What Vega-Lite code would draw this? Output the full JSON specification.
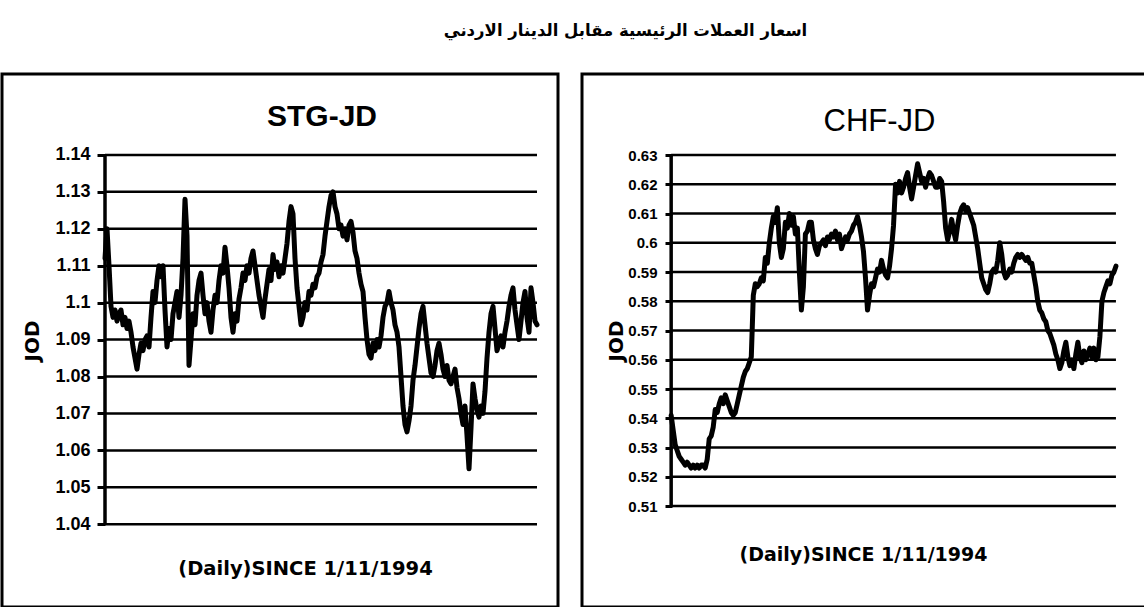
{
  "$schema": "https://vega.github.io/schema/vega-lite/v6.json",
  "background": "white",
  "padding": {"top": 23, "left": 0, "right": 0, "bottom": 0},
  "spacing": 20,
  "title": {"text": "اسعار العملات الرئيسية مقابل الدينار الاردني", "font": "DejaVu Sans", "fontSize": 16.5, "fontWeight": "bold", "color": "black", "anchor": "middle", "dx": 50, "offset": 33},
  "config": {"view": {"stroke": "black", "strokeWidth": 3}},
  "datasets": {
    "gridL": [{"v":1.04},{"v":1.05},{"v":1.06},{"v":1.07},{"v":1.08},{"v":1.09},{"v":1.1},{"v":1.11},{"v":1.12},{"v":1.13},{"v":1.14}],
    "gridR": [{"v":0.51},{"v":0.52},{"v":0.53},{"v":0.54},{"v":0.55},{"v":0.56},{"v":0.57},{"v":0.58},{"v":0.59},{"v":0.6},{"v":0.61},{"v":0.62},{"v":0.63}],
    "stg": [
      {"d":0,"v":1.112},{"d":1,"v":1.12},{"d":2,"v":1.11},{"d":3,"v":1.099},{"d":4,"v":1.096},{"d":5,"v":1.098},{"d":6,"v":1.095},{"d":7,"v":1.097},{"d":8,"v":1.098},{"d":9,"v":1.094},
      {"d":10,"v":1.096},{"d":11,"v":1.093},{"d":12,"v":1.095},{"d":13,"v":1.092},{"d":14,"v":1.088},{"d":15,"v":1.085},{"d":16,"v":1.082},{"d":17,"v":1.086},{"d":18,"v":1.089},{"d":19,"v":1.087},
      {"d":20,"v":1.09},{"d":21,"v":1.091},{"d":22,"v":1.088},{"d":23,"v":1.096},{"d":24,"v":1.103},{"d":25,"v":1.1},{"d":26,"v":1.106},{"d":27,"v":1.11},{"d":28,"v":1.107},{"d":29,"v":1.11},
      {"d":30,"v":1.098},{"d":31,"v":1.088},{"d":32,"v":1.093},{"d":33,"v":1.09},{"d":34,"v":1.097},{"d":35,"v":1.1},{"d":36,"v":1.103},{"d":37,"v":1.096},{"d":38,"v":1.102},{"d":39,"v":1.112},
      {"d":40,"v":1.128},{"d":41,"v":1.118},{"d":42,"v":1.083},{"d":43,"v":1.09},{"d":44,"v":1.097},{"d":45,"v":1.094},{"d":46,"v":1.102},{"d":47,"v":1.106},{"d":48,"v":1.108},{"d":49,"v":1.102},
      {"d":50,"v":1.097},{"d":51,"v":1.1},{"d":52,"v":1.095},{"d":53,"v":1.092},{"d":54,"v":1.098},{"d":55,"v":1.102},{"d":56,"v":1.1},{"d":57,"v":1.106},{"d":58,"v":1.11},{"d":59,"v":1.108},
      {"d":60,"v":1.115},{"d":61,"v":1.11},{"d":62,"v":1.104},{"d":63,"v":1.096},{"d":64,"v":1.092},{"d":65,"v":1.097},{"d":66,"v":1.095},{"d":67,"v":1.101},{"d":68,"v":1.104},{"d":69,"v":1.108},
      {"d":70,"v":1.106},{"d":71,"v":1.11},{"d":72,"v":1.108},{"d":73,"v":1.112},{"d":74,"v":1.114},{"d":75,"v":1.11},{"d":76,"v":1.106},{"d":77,"v":1.102},{"d":78,"v":1.099},{"d":79,"v":1.096},
      {"d":80,"v":1.101},{"d":81,"v":1.105},{"d":82,"v":1.109},{"d":83,"v":1.106},{"d":84,"v":1.113},{"d":85,"v":1.109},{"d":86,"v":1.111},{"d":87,"v":1.107},{"d":88,"v":1.11},{"d":89,"v":1.108},
      {"d":90,"v":1.112},{"d":91,"v":1.116},{"d":92,"v":1.122},{"d":93,"v":1.126},{"d":94,"v":1.124},{"d":95,"v":1.112},{"d":96,"v":1.104},{"d":97,"v":1.099},{"d":98,"v":1.094},{"d":99,"v":1.096},
      {"d":100,"v":1.1},{"d":101,"v":1.098},{"d":102,"v":1.103},{"d":103,"v":1.102},{"d":104,"v":1.105},{"d":105,"v":1.104},{"d":106,"v":1.107},{"d":107,"v":1.108},{"d":108,"v":1.111},{"d":109,"v":1.113},
      {"d":110,"v":1.118},{"d":111,"v":1.122},{"d":112,"v":1.126},{"d":113,"v":1.129},{"d":114,"v":1.13},{"d":115,"v":1.126},{"d":116,"v":1.124},{"d":117,"v":1.12},{"d":118,"v":1.121},{"d":119,"v":1.118},
      {"d":120,"v":1.12},{"d":121,"v":1.117},{"d":122,"v":1.121},{"d":123,"v":1.122},{"d":124,"v":1.119},{"d":125,"v":1.114},{"d":126,"v":1.112},{"d":127,"v":1.108},{"d":128,"v":1.105},{"d":129,"v":1.103},
      {"d":130,"v":1.096},{"d":131,"v":1.09},{"d":132,"v":1.086},{"d":133,"v":1.085},{"d":134,"v":1.089},{"d":135,"v":1.087},{"d":136,"v":1.09},{"d":137,"v":1.088},{"d":138,"v":1.091},{"d":139,"v":1.096},
      {"d":140,"v":1.099},{"d":141,"v":1.1},{"d":142,"v":1.103},{"d":143,"v":1.1},{"d":144,"v":1.098},{"d":145,"v":1.094},{"d":146,"v":1.092},{"d":147,"v":1.088},{"d":148,"v":1.08},{"d":149,"v":1.072},
      {"d":150,"v":1.067},{"d":151,"v":1.065},{"d":152,"v":1.068},{"d":153,"v":1.072},{"d":154,"v":1.079},{"d":155,"v":1.083},{"d":156,"v":1.088},{"d":157,"v":1.093},{"d":158,"v":1.097},{"d":159,"v":1.099},
      {"d":160,"v":1.094},{"d":161,"v":1.089},{"d":162,"v":1.085},{"d":163,"v":1.081},{"d":164,"v":1.08},{"d":165,"v":1.083},{"d":166,"v":1.087},{"d":167,"v":1.089},{"d":168,"v":1.086},{"d":169,"v":1.082},
      {"d":170,"v":1.08},{"d":171,"v":1.083},{"d":172,"v":1.079},{"d":173,"v":1.078},{"d":174,"v":1.08},{"d":175,"v":1.082},{"d":176,"v":1.077},{"d":177,"v":1.074},{"d":178,"v":1.07},{"d":179,"v":1.067},
      {"d":180,"v":1.072},{"d":181,"v":1.064},{"d":182,"v":1.055},{"d":183,"v":1.066},{"d":184,"v":1.078},{"d":185,"v":1.074},{"d":186,"v":1.071},{"d":187,"v":1.069},{"d":188,"v":1.072},{"d":189,"v":1.07},
      {"d":190,"v":1.076},{"d":191,"v":1.085},{"d":192,"v":1.092},{"d":193,"v":1.097},{"d":194,"v":1.099},{"d":195,"v":1.093},{"d":196,"v":1.087},{"d":197,"v":1.089},{"d":198,"v":1.091},{"d":199,"v":1.088},
      {"d":200,"v":1.092},{"d":201,"v":1.095},{"d":202,"v":1.099},{"d":203,"v":1.102},{"d":204,"v":1.104},{"d":205,"v":1.098},{"d":206,"v":1.094},{"d":207,"v":1.09},{"d":208,"v":1.095},{"d":209,"v":1.1},
      {"d":210,"v":1.103},{"d":211,"v":1.096},{"d":212,"v":1.092},{"d":213,"v":1.104},{"d":214,"v":1.1},{"d":215,"v":1.095},{"d":216,"v":1.094}
    ],
    "chf": [
      {"d":0,"v":0.541},{"d":1,"v":0.536},{"d":2,"v":0.531},{"d":3,"v":0.529},{"d":4,"v":0.527},{"d":5,"v":0.526},{"d":6,"v":0.525},{"d":7,"v":0.524},{"d":8,"v":0.525},{"d":9,"v":0.524},
      {"d":10,"v":0.523},{"d":11,"v":0.524},{"d":12,"v":0.523},{"d":13,"v":0.524},{"d":14,"v":0.523},{"d":15,"v":0.524},{"d":16,"v":0.524},{"d":17,"v":0.523},{"d":18,"v":0.526},{"d":19,"v":0.533},
      {"d":20,"v":0.534},{"d":21,"v":0.537},{"d":22,"v":0.543},{"d":23,"v":0.542},{"d":24,"v":0.545},{"d":25,"v":0.547},{"d":26,"v":0.545},{"d":27,"v":0.548},{"d":28,"v":0.546},{"d":29,"v":0.544},
      {"d":30,"v":0.542},{"d":31,"v":0.541},{"d":32,"v":0.542},{"d":33,"v":0.545},{"d":34,"v":0.548},{"d":35,"v":0.551},{"d":36,"v":0.554},{"d":37,"v":0.556},{"d":38,"v":0.557},{"d":39,"v":0.559},
      {"d":40,"v":0.561},{"d":41,"v":0.582},{"d":42,"v":0.586},{"d":43,"v":0.585},{"d":44,"v":0.586},{"d":45,"v":0.588},{"d":46,"v":0.587},{"d":47,"v":0.595},{"d":48,"v":0.593},{"d":49,"v":0.6},
      {"d":50,"v":0.605},{"d":51,"v":0.609},{"d":52,"v":0.607},{"d":53,"v":0.612},{"d":54,"v":0.6},{"d":55,"v":0.595},{"d":56,"v":0.598},{"d":57,"v":0.607},{"d":58,"v":0.605},{"d":59,"v":0.61},
      {"d":60,"v":0.606},{"d":61,"v":0.609},{"d":62,"v":0.603},{"d":63,"v":0.605},{"d":64,"v":0.59},{"d":65,"v":0.577},{"d":66,"v":0.585},{"d":67,"v":0.603},{"d":68,"v":0.604},{"d":69,"v":0.607},
      {"d":70,"v":0.607},{"d":71,"v":0.601},{"d":72,"v":0.598},{"d":73,"v":0.596},{"d":74,"v":0.599},{"d":75,"v":0.6},{"d":76,"v":0.601},{"d":77,"v":0.599},{"d":78,"v":0.602},{"d":79,"v":0.601},
      {"d":80,"v":0.603},{"d":81,"v":0.602},{"d":82,"v":0.604},{"d":83,"v":0.601},{"d":84,"v":0.603},{"d":85,"v":0.598},{"d":86,"v":0.6},{"d":87,"v":0.602},{"d":88,"v":0.601},{"d":89,"v":0.603},
      {"d":90,"v":0.604},{"d":91,"v":0.606},{"d":92,"v":0.607},{"d":93,"v":0.609},{"d":94,"v":0.606},{"d":95,"v":0.602},{"d":96,"v":0.597},{"d":97,"v":0.588},{"d":98,"v":0.577},{"d":99,"v":0.582},
      {"d":100,"v":0.586},{"d":101,"v":0.585},{"d":102,"v":0.588},{"d":103,"v":0.591},{"d":104,"v":0.59},{"d":105,"v":0.594},{"d":106,"v":0.591},{"d":107,"v":0.589},{"d":108,"v":0.588},{"d":109,"v":0.592},
      {"d":110,"v":0.598},{"d":111,"v":0.606},{"d":112,"v":0.62},{"d":113,"v":0.617},{"d":114,"v":0.621},{"d":115,"v":0.617},{"d":116,"v":0.619},{"d":117,"v":0.622},{"d":118,"v":0.624},{"d":119,"v":0.619},
      {"d":120,"v":0.615},{"d":121,"v":0.619},{"d":122,"v":0.623},{"d":123,"v":0.627},{"d":124,"v":0.624},{"d":125,"v":0.621},{"d":126,"v":0.622},{"d":127,"v":0.619},{"d":128,"v":0.622},{"d":129,"v":0.624},
      {"d":130,"v":0.623},{"d":131,"v":0.621},{"d":132,"v":0.619},{"d":133,"v":0.619},{"d":134,"v":0.622},{"d":135,"v":0.621},{"d":136,"v":0.614},{"d":137,"v":0.605},{"d":138,"v":0.601},{"d":139,"v":0.604},
      {"d":140,"v":0.608},{"d":141,"v":0.604},{"d":142,"v":0.601},{"d":143,"v":0.606},{"d":144,"v":0.61},{"d":145,"v":0.612},{"d":146,"v":0.613},{"d":147,"v":0.611},{"d":148,"v":0.612},{"d":149,"v":0.61},
      {"d":150,"v":0.608},{"d":151,"v":0.606},{"d":152,"v":0.602},{"d":153,"v":0.598},{"d":154,"v":0.593},{"d":155,"v":0.588},{"d":156,"v":0.586},{"d":157,"v":0.584},{"d":158,"v":0.583},{"d":159,"v":0.586},
      {"d":160,"v":0.59},{"d":161,"v":0.591},{"d":162,"v":0.59},{"d":163,"v":0.594},{"d":164,"v":0.6},{"d":165,"v":0.596},{"d":166,"v":0.59},{"d":167,"v":0.588},{"d":168,"v":0.589},{"d":169,"v":0.591},
      {"d":170,"v":0.59},{"d":171,"v":0.593},{"d":172,"v":0.595},{"d":173,"v":0.596},{"d":174,"v":0.595},{"d":175,"v":0.596},{"d":176,"v":0.595},{"d":177,"v":0.594},{"d":178,"v":0.595},{"d":179,"v":0.593},
      {"d":180,"v":0.593},{"d":181,"v":0.589},{"d":182,"v":0.585},{"d":183,"v":0.58},{"d":184,"v":0.577},{"d":185,"v":0.576},{"d":186,"v":0.574},{"d":187,"v":0.573},{"d":188,"v":0.57},{"d":189,"v":0.569},
      {"d":190,"v":0.567},{"d":191,"v":0.565},{"d":192,"v":0.562},{"d":193,"v":0.56},{"d":194,"v":0.557},{"d":195,"v":0.559},{"d":196,"v":0.563},{"d":197,"v":0.566},{"d":198,"v":0.561},{"d":199,"v":0.558},
      {"d":200,"v":0.56},{"d":201,"v":0.557},{"d":202,"v":0.562},{"d":203,"v":0.566},{"d":204,"v":0.561},{"d":205,"v":0.559},{"d":206,"v":0.563},{"d":207,"v":0.56},{"d":208,"v":0.562},{"d":209,"v":0.564},
      {"d":210,"v":0.561},{"d":211,"v":0.564},{"d":212,"v":0.56},{"d":213,"v":0.561},{"d":214,"v":0.568},{"d":215,"v":0.58},{"d":216,"v":0.583},{"d":217,"v":0.585},{"d":218,"v":0.587},{"d":219,"v":0.586},
      {"d":220,"v":0.589},{"d":221,"v":0.59},{"d":222,"v":0.592}
    ]
  },
  "hconcat": [
    {
      "width": 556,
      "height": 533,
      "title": {"text": "STG-JD", "font": "Liberation Sans", "fontSize": 30, "fontWeight": "bold", "color": "black", "anchor": "middle", "dx": 42, "offset": -58},
      "layer": [
        {
          "data": {"name": "gridL"},
          "mark": {"type": "rule", "color": "black", "strokeWidth": 2.5},
          "encoding": {
            "y": {"field": "v", "type": "quantitative", "scale": {"domain": [1.0176, 1.1619], "nice": false, "zero": false},
              "axis": {"values": [1.04,1.05,1.06,1.07,1.08,1.09,1.1,1.11,1.12,1.13,1.14], "format": "~g", "offset": -103, "domain": false, "grid": false,
                "tickSize": 8, "tickWidth": 3, "tickColor": "black", "labelFont": "Liberation Sans", "labelFontSize": 18, "labelFontWeight": "bold", "labelColor": "black", "labelPadding": 7,
                "title": "JOD", "titleFont": "DejaVu Sans", "titleFontSize": 20, "titleFontWeight": "bold", "titleColor": "black", "titlePadding": 12}},
            "x": {"datum": 0, "type": "quantitative", "scale": {"domain": [-51.5, 226.5], "nice": false, "zero": false},
              "axis": {"domain": false, "ticks": false, "labels": false, "grid": false, "title": "(Daily)SINCE 1/11/1994", "titleFont": "DejaVu Sans", "titleFontSize": 19.5, "titleFontWeight": "bold", "titleColor": "black", "titleX": 303, "titleY": -39, "titleBaseline": "middle", "titleAlign": "center"}},
            "x2": {"datum": 216}
          }
        },
        {
          "data": {"name": "gridL"},
          "mark": {"type": "rule", "color": "black", "strokeWidth": 3.5},
          "encoding": {
            "x": {"datum": 0, "type": "quantitative"},
            "y": {"aggregate": "min", "field": "v", "type": "quantitative"},
            "y2": {"aggregate": "max", "field": "v"}
          }
        },
        {
          "data": {"name": "stg"},
          "mark": {"type": "line", "color": "black", "strokeWidth": 5, "strokeJoin": "round", "strokeCap": "round"},
          "encoding": {
            "x": {"field": "d", "type": "quantitative"},
            "y": {"field": "v", "type": "quantitative"}
          }
        }
      ]
    },
    {
      "width": 567,
      "height": 533,
      "title": {"text": "CHF-JD", "font": "Liberation Sans", "fontSize": 31, "fontWeight": "normal", "color": "black", "anchor": "middle", "dx": 14, "offset": -64},
      "layer": [
        {
          "data": {"name": "gridR"},
          "mark": {"type": "rule", "color": "black", "strokeWidth": 2.5},
          "encoding": {
            "y": {"field": "v", "type": "quantitative", "scale": {"domain": [0.4755, 0.6577], "nice": false, "zero": false},
              "axis": {"values": [0.51,0.52,0.53,0.54,0.55,0.56,0.57,0.58,0.59,0.6,0.61,0.62,0.63], "format": "~g", "offset": -90, "domain": false, "grid": false,
                "tickSize": 7, "tickWidth": 3, "tickColor": "black", "labelFont": "Liberation Sans", "labelFontSize": 15, "labelFontWeight": "bold", "labelColor": "black", "labelPadding": 8,
                "title": "JOD", "titleFont": "DejaVu Sans", "titleFontSize": 20, "titleFontWeight": "bold", "titleColor": "black", "titlePadding": 1}},
            "x": {"datum": 0, "type": "quantitative", "scale": {"domain": [-44.5, 238.5], "nice": false, "zero": false},
              "axis": {"domain": false, "ticks": false, "labels": false, "grid": false, "title": "(Daily)SINCE 1/11/1994", "titleFont": "DejaVu Sans", "titleFontSize": 19, "titleFontWeight": "bold", "titleColor": "black", "titleX": 281, "titleY": -53, "titleBaseline": "middle", "titleAlign": "center"}},
            "x2": {"datum": 222}
          }
        },
        {
          "data": {"name": "gridR"},
          "mark": {"type": "rule", "color": "black", "strokeWidth": 3.5},
          "encoding": {
            "x": {"datum": 0, "type": "quantitative"},
            "y": {"aggregate": "min", "field": "v", "type": "quantitative"},
            "y2": {"aggregate": "max", "field": "v"}
          }
        },
        {
          "data": {"name": "chf"},
          "mark": {"type": "line", "color": "black", "strokeWidth": 5, "strokeJoin": "round", "strokeCap": "round"},
          "encoding": {
            "x": {"field": "d", "type": "quantitative"},
            "y": {"field": "v", "type": "quantitative"}
          }
        }
      ]
    }
  ]
}
